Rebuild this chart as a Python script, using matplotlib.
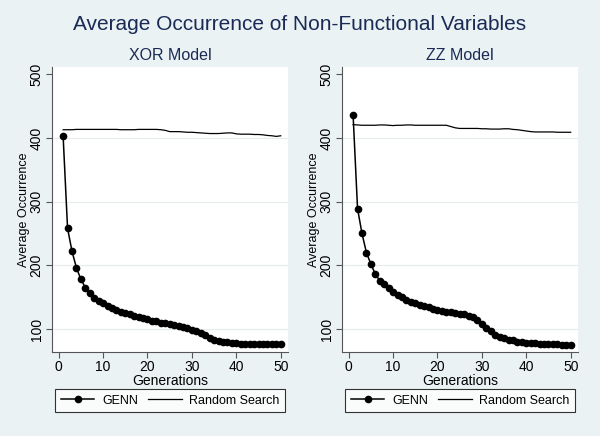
import matplotlib
matplotlib.use("Agg")
import matplotlib.pyplot as plt

plt.rcParams['font.family'] = ['Liberation Sans', 'DejaVu Sans']

generations = list(range(1, 51))

xor_genn = [403, 258, 222, 196, 178, 165, 156, 149, 144, 140,
            136, 133, 130, 127, 125, 123, 121, 119, 117, 115,
            113, 112, 110, 109, 108, 106, 105, 103, 101, 99,
            96, 93, 90, 86, 83, 81, 80, 79, 78, 77.5,
            77, 76.5, 76.5, 76.5, 76, 76, 76, 76, 76, 76]
xor_random = [413, 413, 413, 413.5, 413.5, 413.5, 413.5, 413.5, 413.5, 413.5,
              413.5, 413.5, 413.5, 413, 413, 413, 413, 413.5, 413.5, 413.5,
              413.5, 413.5, 413, 412, 410, 410, 410, 409.5, 409, 409,
              408.5, 408, 407.5, 407, 407, 407, 407.5, 408, 408, 406.5,
              406, 406, 406, 405.5, 405.5, 405, 404, 403.5, 402.5, 403.5]

zz_genn = [436, 289, 250, 220, 202, 186, 176, 170, 164, 158,
           154, 150, 146, 143, 141, 138, 136, 134, 132, 130,
           128, 127, 126, 125, 124, 123, 121, 118, 114, 108,
           102, 96, 91, 88, 85, 83, 82, 80, 79, 78.5,
           78, 77.5, 77, 76.5, 76.5, 76, 76, 75.5, 75.5, 75.5]
zz_random = [421, 420.5, 420, 420, 420, 420, 420.5, 420.5, 420, 419.5,
             420, 420, 420.5, 420.5, 420, 420, 420, 420, 420, 420,
             420, 420, 418, 416, 415, 415, 415, 415, 415, 414.5,
             414.5, 414, 414, 414, 414.5, 414.5, 413.5, 413, 412, 411,
             410, 409.5, 409.5, 409.5, 409.5, 409.5, 409, 409, 409, 409]

panels = [("XOR Model", xor_genn, xor_random), ("ZZ Model", zz_genn, zz_random)]
yticks = [100, 200, 300, 400, 500]
xticks = [0, 10, 20, 30, 40, 50]

bg = '#eaf2f3'
navy = '#1a2a55'

fig = plt.figure(figsize=(6, 4.36), dpi=100, facecolor=bg)
fig.suptitle("Average Occurrence of Non-Functional Variables", y=0.965,
             fontsize=15, color=navy)

lefts = [0.0867, 0.57]
for left, (name, genn, rand) in zip(lefts, panels):
    ax = fig.add_axes([left, 0.193, 0.393, 0.654])
    ax.set_facecolor('white')
    ax.plot(generations, genn, color='black', marker='o', markersize=4.5,
            linewidth=1.1, label='GENN')
    ax.plot(generations, rand, color='black', linewidth=0.9,
            label='Random Search')
    ax.set_xlim(-1.5, 51.6)
    ax.set_ylim(64, 512)
    ax.set_xticks(xticks)
    ax.set_yticks(yticks)
    for t in [100, 200, 300, 400]:
        ax.axhline(t, color='#e4ecee', linewidth=0.8, zorder=0)
    for s in ['top', 'right']:
        ax.spines[s].set_visible(False)
    for s in ['left', 'bottom']:
        ax.spines[s].set_color('#555555')
        ax.spines[s].set_linewidth(0.8)
    ax.tick_params(axis='both', labelsize=10, length=4, width=0.8,
                   color='#555555', pad=2)
    for lab in ax.get_yticklabels():
        lab.set_rotation(90)
        lab.set_va('center')
    ax.set_xlabel("Generations", fontsize=10, labelpad=0)
    ax.set_ylabel("Average Occurrence", fontsize=9, labelpad=0)
    ax.set_title(name, fontsize=11.5, color=navy, pad=5)
    leg = ax.legend(loc='upper left', bbox_to_anchor=(0.013, -0.13),
                    ncol=2, fontsize=9, frameon=True, borderaxespad=0,
                    fancybox=False, edgecolor='black', handlelength=2.7,
                    borderpad=0.45, handletextpad=0.6, columnspacing=0.8)
    leg.get_frame().set_linewidth(0.8)

fig.savefig("out.png", dpi=100, facecolor=bg)
